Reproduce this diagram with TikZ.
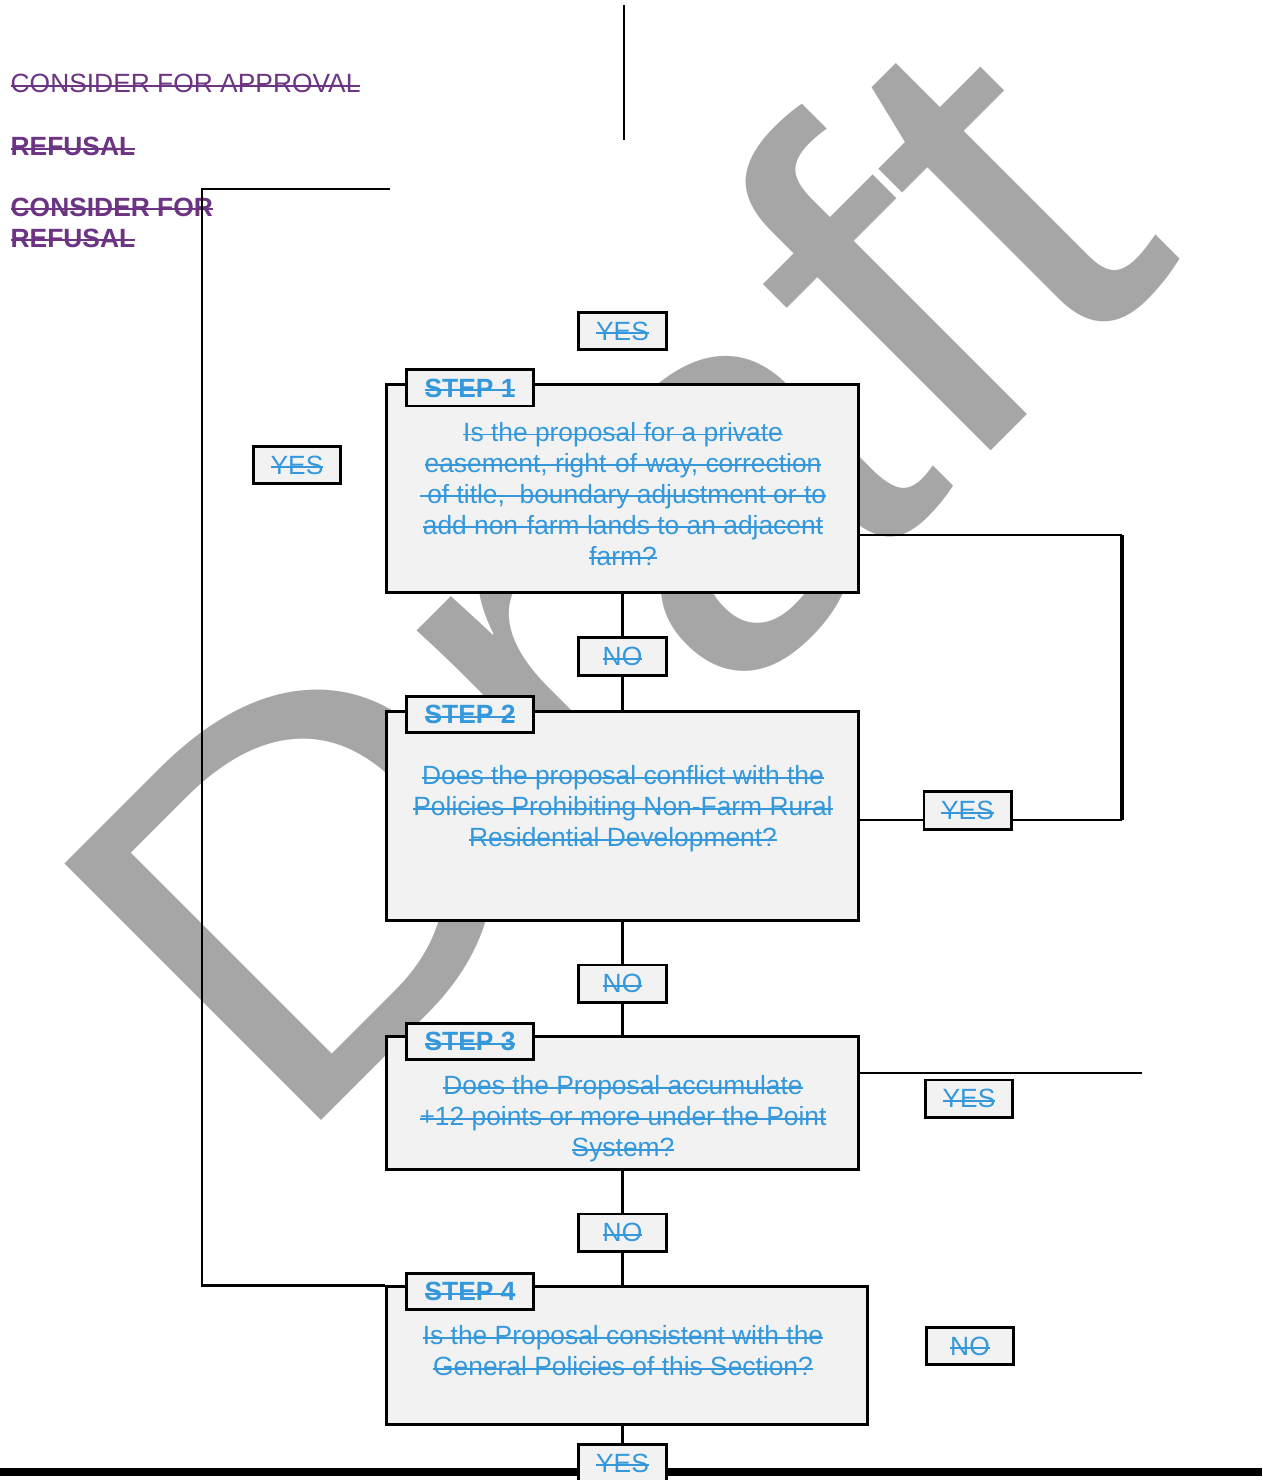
\documentclass[tikz,border=0pt]{standalone}
\usepackage{fontspec}
\setmainfont{Liberation Sans}
\usepackage{xcolor}
\usetikzlibrary{positioning}

\definecolor{stepblue}{HTML}{3498DB}
\definecolor{notepurple}{HTML}{6C3483}
\definecolor{boxgrey}{HTML}{F2F2F2}
\definecolor{markgrey}{HTML}{A6A6A6}

% struck-out text
\newsavebox{\strikebox}
\newcommand{\strike}[1]{\sbox{\strikebox}{#1}\rlap{\rule[0.23em]{\wd\strikebox}{0.55pt}}\usebox{\strikebox}}

\tikzset{
  stepbox/.style={draw, line width=0.85pt, fill=boxgrey, inner sep=0pt, minimum width=4.71cm},
  steptag/.style={draw, line width=0.85pt, fill=boxgrey, inner sep=0pt, minimum width=1.26cm, minimum height=0.36cm, text=stepblue, font=\bfseries\fontsize{7.5}{9}\selectfont},
  answer/.style={draw, line width=0.85pt, fill=boxgrey, inner sep=0pt, minimum width=0.87cm, minimum height=0.37cm, text=stepblue, font=\fontsize{7.5}{9}\selectfont},
  question/.style={align=center, inner sep=0pt, text=stepblue, font=\fontsize{7.5}{8.8}\selectfont},
  note/.style={inner sep=0pt, anchor=base west, text=notepurple, font=\fontsize{7.5}{8.8}\selectfont},
  boldnote/.style={note, font=\bfseries\fontsize{7.5}{8.8}\selectfont},
  link/.style={line width=0.7pt},
}

\begin{document}
\begin{tikzpicture}[x=0.01cm, y=-0.01cm]
            \useasboundingbox (0,0) rectangle (1262,1480);

            % watermark
            \node[inner sep=0pt, anchor=base, text=markgrey, font=\fontsize{150}{150}\selectfont, rotate=45, xscale=1.11] (wm) at (736,706) {Draft};

            \coordinate (barleft) at (0,1472);
            \coordinate (barright) at (1262,1472);
            \draw[line width=2.3pt] (barleft) -- (barright);

            % notes at the top left
            \node[note] (approve) at (10,93) {\strike{CONSIDER FOR APPROVAL}};
            \node[boldnote] (refuse) at (10,156) {\strike{REFUSAL}};
            \node[boldnote, align=left, anchor=north west] (considerrefuse) at (10,197) {\strike{CONSIDER FOR}\\\strike{REFUSAL}};

            % steps
            \node[stepbox, minimum height=2.07cm] (step1) at (622.5,488.5) {};
            \node[steptag] (tag1) at (470,388) {\strike{STEP 1}};
            \node[question] (q1) at (623,494) {\strike{Is the proposal for a private}\\\strike{easement, right-of-way, correction}\\\strike{\ of title,\ \ boundary adjustment or to}\\\strike{add non-farm lands to an adjacent}\\\strike{farm?}};

            \node[stepbox, minimum height=2.08cm] (step2) at (622.5,816) {};
            \node[steptag] (tag2) at (470,714.5) {\strike{STEP 2}};
            \node[question] (q2) at (623,809) {\strike{Does the proposal conflict with the}\\\strike{Policies Prohibiting Non-Farm Rural}\\\strike{Residential Development?}};

            \node[stepbox, minimum height=1.32cm] (step3) at (622.5,1103) {};
            \node[steptag] (tag3) at (470,1041.5) {\strike{STEP 3}};
            \node[question] (q3) at (623,1119) {\strike{Does the Proposal accumulate}\\\strike{+12 points or more under the Point}\\\strike{System?}};

            \node[stepbox, minimum width=4.80cm, minimum height=1.37cm] (step4) at (627,1355.5) {};
            \node[steptag] (tag4) at (470,1291.5) {\strike{STEP 4}};
            \node[question] (q4) at (623,1351) {\strike{Is the Proposal consistent with the}\\\strike{General Policies of this Section?}};

            % answers
            \node[answer] (yestop) at (622.5,331) {\strike{YES}};
            \node[answer] (yesleft) at (297,465) {\strike{YES}};
            \node[answer] (no1) at (622.5,656.5) {\strike{NO}};
            \node[answer] (no2) at (622.5,983.5) {\strike{NO}};
            \node[answer] (no3) at (622.5,1232.5) {\strike{NO}};
            \node[answer] (yes2) at (967.5,810.5) {\strike{YES}};
            \node[answer] (yes3) at (969,1098.5) {\strike{YES}};
            \node[answer] (noright) at (970,1346) {\strike{NO}};
            \node[answer] (yesbot) at (622.5,1463) {\strike{YES}};

            \coordinate (topend) at (624,5);
            \coordinate (topstub) at (624,140);
            \coordinate (lefttop) at (390,189);
            \coordinate (leftcorner) at (202,189);
            \coordinate (r1) at (1122,535);
            \coordinate (r2) at (1122,820);
            \coordinate (s3out) at (1142,1073);

            \draw[link] (topend) -- (topstub);
            \draw[link] (lefttop) -- (leftcorner) |- (step4.north west);
            \draw[link] (step1) -- (no1) -- (step2);
            \draw[link] (step2) -- (no2) -- (step3);
            \draw[link] (step3) -- (no3) -- (no3 |- step4.north);
            \draw[link] (yesbot |- step4.south) -- (yesbot);
            \draw[link] (step1.east |- r1) -- (r1);
            \draw[line width=1.1pt] (r1) -- (r2);
            \draw[link] (r2) -- (yes2.east |- r2);
            \draw[link] (yes2.west |- r2) -- (step2.east |- r2);
            \draw[link] (step3.east |- s3out) -- (s3out);
        \end{tikzpicture}
\end{document}
